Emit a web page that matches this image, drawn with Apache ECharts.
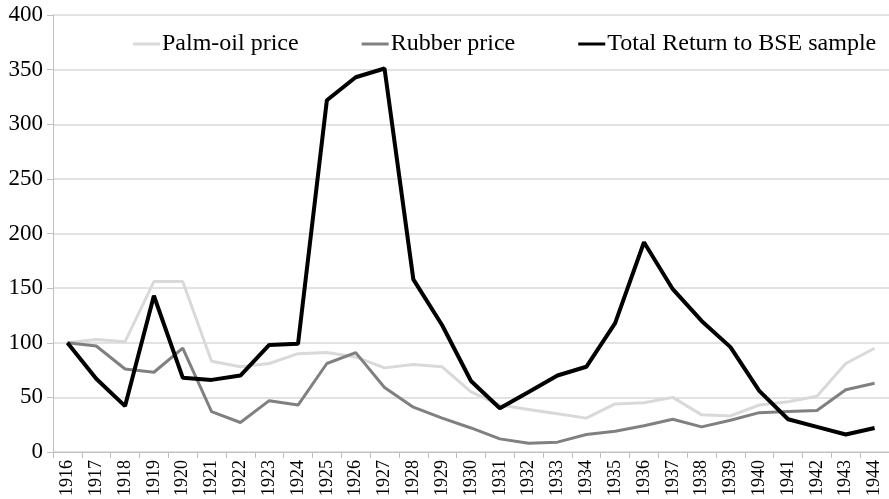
<!DOCTYPE html>
<html>
<head>
<meta charset="utf-8">
<script src="https://cdn.jsdelivr.net/npm/echarts@6/dist/echarts.min.js"></script>
<style>
html,body{margin:0;padding:0;background:#fff;}
#main{width:889px;height:499px;}
</style>
</head>
<body>
<div id="main"></div>
<script>
var years = ['1916','1917','1918','1919','1920','1921','1922','1923','1924','1925',
    '1926','1927','1928','1929','1930','1931','1932','1933','1934','1935',
    '1936','1937','1938','1939','1940','1941','1942','1943','1944'];
var palmOil = [100,103,101,156,156,83,78,81,90,91,
    87,77,80,78,55,43,39,35,31,44,
    45,50,34,33,43,46,51,81,95];
var rubber = [100,97,76,73,95,37,27,47,43,81,
    91,59,41,31,22,12,8,9,16,19,
    24,30,23,29,36,37,38,57,63];
var totalReturn = [100,67,42,143,68,66,70,98,99,322,
    343,351,158,116,65,40,55,70,78,118,
    192,149,120,96,56,30,23,16,22];

var font = '"Liberation Serif", "Times New Roman", serif';

var dom = document.getElementById('main');
var myChart = echarts.init(dom);
var option = {
    animation: false,
    textStyle: { fontFamily: font },
    grid: { left: 53, top: 15, width: 841, height: 437 },
    legend: {
        left: 128,
        top: 27,
        itemWidth: 27,
        itemHeight: 3,
        itemGap: 63,
        icon: 'rect',
        textStyle: { fontFamily: font, fontSize: 24, color: '#000', padding: [0, 0, 0, -3] },
        data: ['Palm-oil price', 'Rubber price', 'Total Return to BSE sample']
    },
    xAxis: {
        type: 'category',
        boundaryGap: true,
        data: years,
        axisLine: { lineStyle: { color: '#bfbfbf', width: 1 } },
        axisTick: { show: true, length: 6, lineStyle: { color: '#bfbfbf' } },
        axisLabel: { rotate: 90, fontFamily: font, fontSize: 18, color: '#000', margin: 8, interval: 0 }
    },
    yAxis: {
        type: 'value',
        min: 0,
        max: 400,
        interval: 50,
        axisLine: { show: true, lineStyle: { color: '#bfbfbf', width: 1 } },
        axisTick: { show: true, length: 6, lineStyle: { color: '#bfbfbf' } },
        axisLabel: { fontFamily: font, fontSize: 23, color: '#000', margin: 10 },
        splitLine: { lineStyle: { color: '#d9d9d9', width: 1.5 } }
    },
    series: [
        {
            name: 'Palm-oil price',
            type: 'line',
            data: palmOil,
            symbol: 'none',
            color: '#d9d9d9',
            lineStyle: { color: '#d9d9d9', width: 3 }
        },
        {
            name: 'Rubber price',
            type: 'line',
            data: rubber,
            symbol: 'none',
            color: '#808080',
            lineStyle: { color: '#808080', width: 3 }
        },
        {
            name: 'Total Return to BSE sample',
            type: 'line',
            data: totalReturn,
            symbol: 'none',
            color: '#000000',
            lineStyle: { color: '#000000', width: 4 }
        }
    ]
};
myChart.setOption(option);
</script>
</body>
</html>
